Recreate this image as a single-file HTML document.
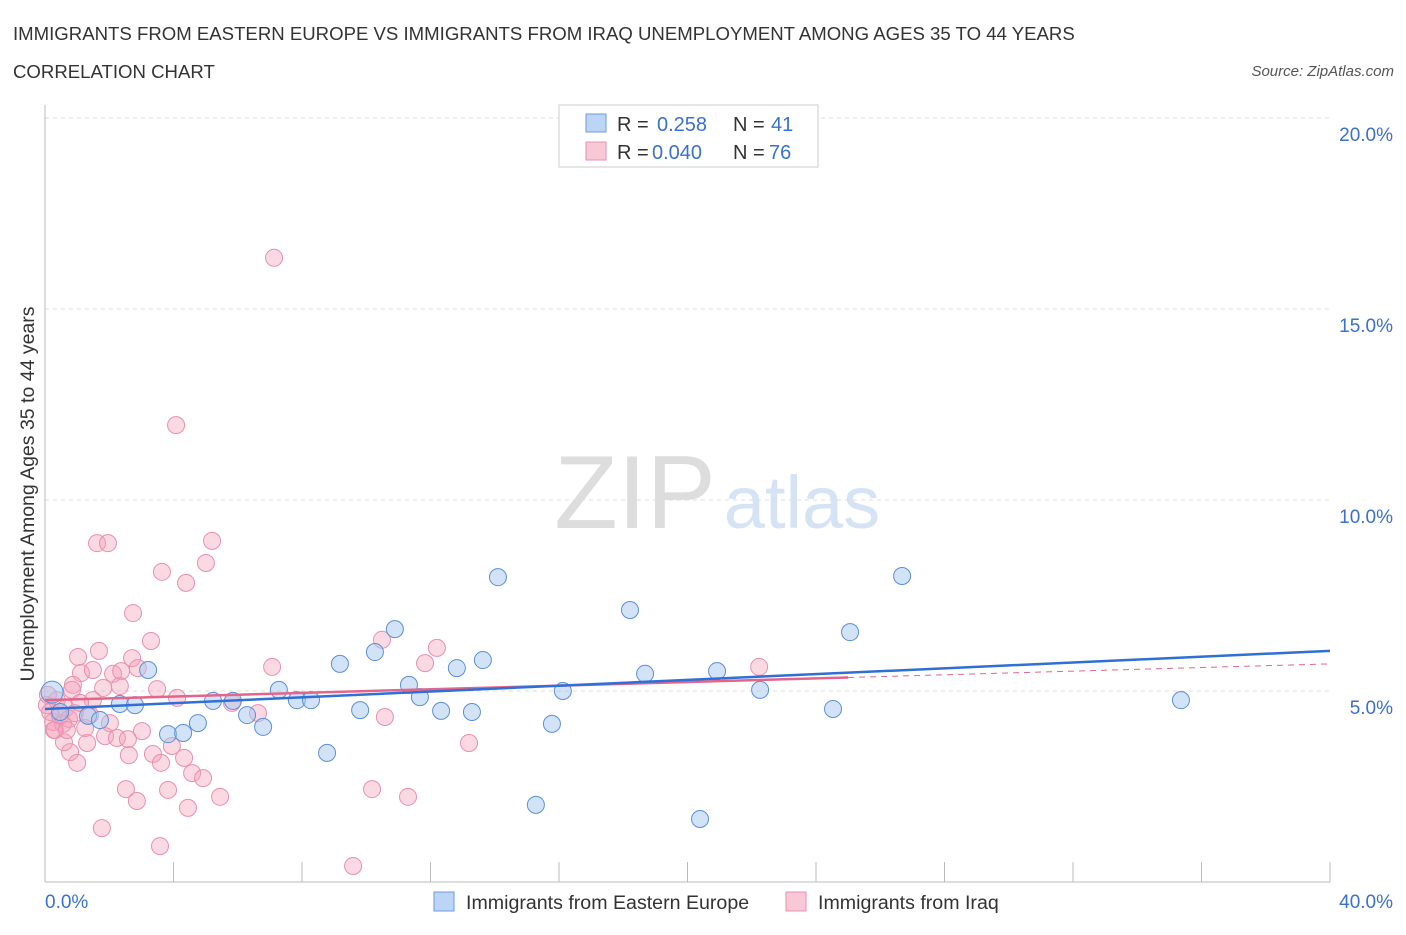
<!DOCTYPE html>
<html><head><meta charset="utf-8"><style>
body{margin:0;background:#fff;font-family:"Liberation Sans",sans-serif}
svg text{font-family:"Liberation Sans",sans-serif}
</style></head><body>
<svg id="c" width="1406" height="930">
<text x="13" y="40" font-size="18.6" fill="#333">IMMIGRANTS FROM EASTERN EUROPE VS IMMIGRANTS FROM IRAQ UNEMPLOYMENT AMONG AGES 35 TO 44 YEARS</text>
<text x="13" y="78" font-size="18.6" fill="#333">CORRELATION CHART</text>
<text x="1394" y="76" font-size="15" fill="#555" font-style="italic" text-anchor="end">Source: ZipAtlas.com</text>
<text x="635" y="528" font-size="104" fill="#ddd" font-family="Liberation Serif" text-anchor="middle">ZIP</text>
<text x="802" y="528" font-size="74" fill="#d5e3f5" text-anchor="middle">atlas</text>
<g id="grid"></g><g id="pts"></g><g id="trend"></g>
<text transform="translate(34,494) rotate(-90)" font-size="19.5" fill="#333" text-anchor="middle">Unemployment Among Ages 35 to 44 years</text>
<g>
<rect x="559" y="105" width="259" height="62" fill="#fff" stroke="#ccc"/>
<rect x="586" y="114" width="20" height="18" fill="#bcd4f5" stroke="#6a9be0"/>
<text x="617" y="131" font-size="20" fill="#333">R = </text><text x="657" y="131" font-size="20" fill="#3a70d0">0.258</text>
<text x="733" y="131" font-size="20" fill="#333">N = </text><text x="771" y="131" font-size="20" fill="#3a70d0">41</text>
<rect x="586" y="142" width="20" height="18" fill="#f8c8d6" stroke="#e890ad"/>
<text x="617" y="159" font-size="20" fill="#333">R = </text><text x="652" y="159" font-size="20" fill="#3a70d0">0.040</text>
<text x="733" y="159" font-size="20" fill="#333">N = </text><text x="769" y="159" font-size="20" fill="#3a70d0">76</text>
</g>
<g>
<rect x="434" y="892" width="20" height="19" fill="#bcd4f5" stroke="#6a9be0"/>
<text x="466" y="909" font-size="19.6" fill="#333">Immigrants from Eastern Europe</text>
<rect x="786" y="892" width="20" height="19" fill="#f8c8d6" stroke="#e890ad"/>
<text x="818" y="909" font-size="19.6" fill="#333">Immigrants from Iraq</text>
</g>
</svg>
<script>
const yTicks=[5,10,15,20];
const yTickLabels=["5.0%","10.0%","15.0%","20.0%"];
const xTickLabels=["0.0%","40.0%"];
const bluePx=[[52,692],[60,712],[88,716],[100,720],[120,704],[135,705],[148,670],[168,734],[183,733],[198,723],[213,701],[233,701],[247,715],[263,727],[279,690],[297,700],[311,700],[327,753],[340,664],[360,710],[375,652],[395,629],[409,685],[420,697],[441,711],[457,668],[472,712],[483,660],[498,577],[536,805],[552,724],[563,691],[630,610],[645,674],[700,819],[717,671],[760,690],[833,709],[850,632],[902,576],[1181,700]];
const pinkPx=[[97,543],[108,543],[212,541],[206,563],[162,572],[186,583],[133,613],[151,641],[99,651],[78,657],[132,658],[81,673],[93,670],[113,674],[121,671],[138,668],[103,688],[120,686],[73,685],[157,689],[177,698],[93,700],[272,667],[382,640],[425,663],[437,648],[232,703],[258,713],[385,717],[110,723],[85,728],[55,730],[142,731],[105,736],[117,738],[128,739],[172,746],[87,743],[70,752],[129,755],[153,754],[161,763],[184,758],[77,763],[192,773],[203,778],[126,789],[168,790],[137,801],[220,797],[188,808],[372,789],[408,797],[102,828],[160,846],[353,866],[274,258],[176,425],[469,743],[759,667],[47,705],[50,712],[53,722],[57,700],[60,716],[63,724],[66,708],[69,719],[72,690],[75,713],[80,703],[48,695],[54,730],[64,742],[67,730],[90,715]];
const blueX=bluePx.map(p=>+((p[0]-45)/1285*40).toFixed(2));
const blueY=bluePx.map(p=>+((882-p[1])/191*5).toFixed(2));
const pinkX=pinkPx.map(p=>+((p[0]-45)/1285*40).toFixed(2));
const pinkY=pinkPx.map(p=>+((882-p[1])/191*5).toFixed(2));
const blueTrend=[4.53,6.05];
const pinkTrend=[4.76,5.71];
const NS="http://www.w3.org/2000/svg";
const X=v=>45+v/40*1285, Y=v=>882-v/5*191;
function mk(t,a,parent){const e=document.createElementNS(NS,t);for(const k in a)e.setAttribute(k,a[k]);parent.appendChild(e);return e;}
const g=document.getElementById('grid');
yTicks.forEach((t,i)=>{
 const l=mk('line',{x1:45,x2:1330,y1:Y(t),y2:Y(t),stroke:'#ddd','stroke-dasharray':'4,4'},g);
 
 
 const tx=mk('text',{x:1393,y:Y(t)+23,'font-size':19,fill:'#3a70d0','text-anchor':'end'},g);
 tx.textContent=yTickLabels[i];
 
 
});
const ax=mk('line',{x1:45,x2:45,y1:105,y2:882,stroke:'#bbb'},g);


const bx=mk('line',{x1:45,x2:1330,y1:882,y2:882,stroke:'#bbb'},g);


for(let i=0;i<=10;i++){const t=mk('line',{x1:X(i*4),x2:X(i*4),y1:862,y2:882,stroke:'#bbb'},g);
 
 }
[[0,'start',45],[40,'end',1393]].forEach((d,i)=>{const t=mk('text',{x:d[2],y:908,'font-size':19,fill:'#3a70d0','text-anchor':d[1]},g);t.textContent=xTickLabels[i];
 
 });
const P=document.getElementById('pts');
pinkX.forEach((x,i)=>{const c=mk('circle',{cx:X(x),cy:Y(pinkY[i]),r:8.5,fill:'rgba(244,160,186,0.4)',stroke:'#e98fae','stroke-width':1},P);
 
 });
blueX.forEach((x,i)=>{const c=mk('circle',{cx:X(x),cy:Y(blueY[i]),r:i==0?11:8.5,fill:'rgba(168,200,240,0.5)',stroke:'#5b8fd9','stroke-width':1},P);
 
 });
const T=document.getElementById('trend');
const pl=mk('line',{x1:X(0),y1:Y(pinkTrend[0]),x2:X(25),y2:Y(pinkTrend[0]+(pinkTrend[1]-pinkTrend[0])*25/40),stroke:'#e2658c','stroke-width':2.5},T);


const pd=mk('line',{x1:X(25),y1:Y(pinkTrend[0]+(pinkTrend[1]-pinkTrend[0])*25/40),x2:X(40),y2:Y(pinkTrend[1]),stroke:'#e2658c','stroke-width':1,'stroke-dasharray':'6,5'},T);


const bl=mk('line',{x1:X(0),y1:Y(blueTrend[0]),x2:X(40),y2:Y(blueTrend[1]),stroke:'#2f6fd6','stroke-width':2.5},T);


</script>
</body></html>
